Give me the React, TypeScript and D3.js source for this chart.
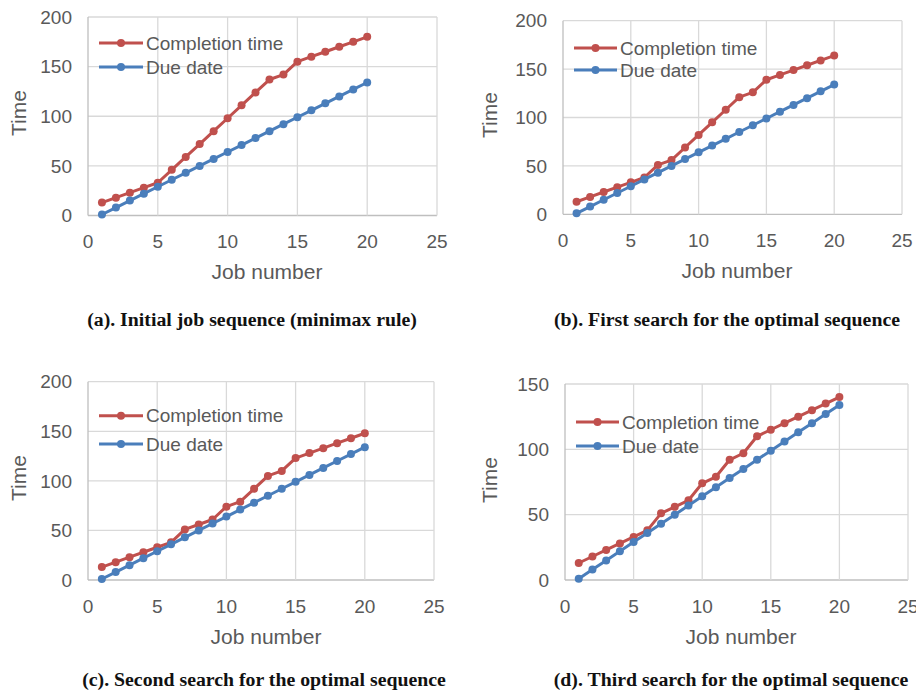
import * as d3 from 'd3';

// job numbers 1..20
const jobs = [1, 2, 3, 4, 5, 6, 7, 8, 9, 10, 11, 12, 13, 14, 15, 16, 17, 18, 19, 20];

// due date is the same in all four panels
const dueDate = [1, 8, 15, 22, 29, 36, 43, 50, 57, 64, 71, 78, 85, 92, 99, 106, 113, 120, 127, 134];

const completionA = [13, 18, 23, 28, 33, 46, 59, 72, 85, 98, 111, 124, 137, 142, 155, 160, 165, 170, 175, 180];
const completionB = [13, 18, 23, 28, 33, 38, 51, 56, 69, 82, 95, 108, 121, 126, 139, 144, 149, 154, 159, 164];
const completionC = [13, 18, 23, 28, 33, 38, 51, 56, 61, 74, 79, 92, 105, 110, 123, 128, 133, 138, 143, 148];
const completionD = [13, 18, 23, 28, 33, 38, 51, 56, 61, 74, 79, 92, 97, 110, 115, 120, 125, 130, 135, 140];

const xTicks = [0, 5, 10, 15, 20, 25];
const yTicks200 = [0, 50, 100, 150, 200];
const yTicks150 = [0, 50, 100, 150];

const seriesNames = ['Completion time', 'Due date'];
const captions = [
  '(a). Initial job sequence (minimax rule)',
  '(b). First search for the optimal sequence',
  '(c). Second search for the optimal sequence',
  '(d). Third search for the optimal sequence',
];

const RED = '#c0504d';
const BLUE = '#4a7ebb';
const GRID = '#d9d9d9';
const AXIS = '#bfbfbf';
const TEXT = '#595959';
const SANS = '"Liberation Sans", Arial, Helvetica, sans-serif';

type PanelProps = {
  completion: number[];
  yTicks: number[];
  left: number; right: number; top: number; bottom: number;
  xTitle: [number, number];
  yTitle: [number, number];
  legend: { x0: number; x1: number; y1: number; y2: number };
  caption: string;
  capX: number; capY: number;
};

function Panel(p: PanelProps) {
  const x = d3.scaleLinear().domain([0, 25]).range([p.left, p.right]);
  const y = d3.scaleLinear().domain([0, p.yTicks[p.yTicks.length - 1]]).range([p.bottom, p.top]);
  const line = d3.line<number>().x((_, i) => x(jobs[i])).y(d => y(d));
  const series = [
    { name: seriesNames[0], color: RED, values: p.completion, ly: p.legend.y1 },
    { name: seriesNames[1], color: BLUE, values: dueDate, ly: p.legend.y2 },
  ];
  return (
    <g>
      {/* grid */}
      {p.yTicks.map(t => (
        <line key={'gy' + t} x1={p.left} x2={p.right} y1={y(t)} y2={y(t)} stroke={t === 0 ? AXIS : GRID} strokeWidth={1.3} />
      ))}
      {xTicks.map(t => (
        <line key={'gx' + t} x1={x(t)} x2={x(t)} y1={p.top} y2={p.bottom} stroke={t === 0 ? AXIS : GRID} strokeWidth={1.3} />
      ))}
      {/* tick labels */}
      {p.yTicks.map(t => (
        <text key={'ly' + t} x={p.left - 16} y={y(t)} dy="0.35em" textAnchor="end" fontSize={19} fill={TEXT} fontFamily={SANS}>{t}</text>
      ))}
      {xTicks.map(t => (
        <text key={'lx' + t} x={x(t)} y={p.bottom + 26} dy="0.35em" textAnchor="middle" fontSize={19} fill={TEXT} fontFamily={SANS}>{t}</text>
      ))}
      {/* axis titles */}
      <text x={p.xTitle[0]} y={p.xTitle[1]} dy="0.35em" textAnchor="middle" fontSize={21} fill={TEXT} fontFamily={SANS}>Job number</text>
      <text transform={`translate(${p.yTitle[0]},${p.yTitle[1]}) rotate(-90)`} dy="0.35em" textAnchor="middle" fontSize={21} fill={TEXT} fontFamily={SANS}>Time</text>
      {/* series */}
      {series.map(s => (
        <g key={s.name}>
          <path d={line(s.values) || ''} fill="none" stroke={s.color} strokeWidth={3} strokeLinejoin="round" />
          {s.values.map((v, i) => (
            <circle key={i} cx={x(jobs[i])} cy={y(v)} r={4} fill={s.color} />
          ))}
        </g>
      ))}
      {/* legend */}
      {series.map(s => (
        <g key={'lg' + s.name}>
          <line x1={p.legend.x0} x2={p.legend.x1} y1={s.ly} y2={s.ly} stroke={s.color} strokeWidth={3} />
          <circle cx={(p.legend.x0 + p.legend.x1) / 2} cy={s.ly} r={4} fill={s.color} />
          <text x={p.legend.x1 + 3} y={s.ly} dy="0.35em" fontSize={19} fill={TEXT} fontFamily={SANS}>{s.name}</text>
        </g>
      ))}
      {/* caption */}
      <text x={p.capX} y={p.capY} textAnchor="middle" fontSize={19.8} fontWeight="bold" fill="#111" fontFamily='"Liberation Serif", "Times New Roman", serif'>{p.caption}</text>
    </g>
  );
}

export default function App() {
  return (
    <div style={{ position: 'absolute', left: 0, top: 0 }}>
      <svg width={916} height={693} style={{ display: 'block', background: '#fff' }}>
        <Panel completion={completionA} yTicks={yTicks200} left={88} right={437} top={17} bottom={215.5}
          xTitle={[267, 272]} yTitle={[19, 113]} legend={{ x0: 99, x1: 143, y1: 43, y2: 67 }}
          caption={captions[0]} capX={252} capY={326} />
        <Panel completion={completionB} yTicks={yTicks200} left={563} right={902} top={20.7} bottom={214.3}
          xTitle={[737, 271]} yTitle={[490, 115]} legend={{ x0: 574, x1: 617, y1: 48, y2: 70 }}
          caption={captions[1]} capX={727} capY={326} />
        <Panel completion={completionC} yTicks={yTicks200} left={88} right={434} top={381.7} bottom={580}
          xTitle={[266, 637]} yTitle={[19, 478]} legend={{ x0: 99, x1: 143, y1: 415.7, y2: 444 }}
          caption={captions[2]} capX={264} capY={686} />
        <Panel completion={completionD} yTicks={yTicks150} left={565} right={908} top={384} bottom={580}
          xTitle={[741, 637]} yTitle={[490, 480]} legend={{ x0: 576, x1: 619, y1: 422, y2: 446 }}
          caption={captions[3]} capX={731} capY={686} />
      </svg>
    </div>
  );
}
